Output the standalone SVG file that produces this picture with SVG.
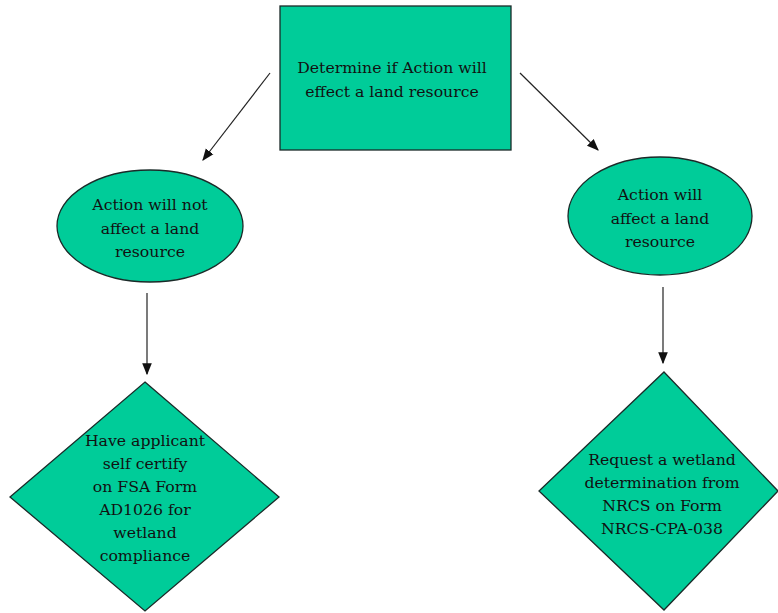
<svg xmlns="http://www.w3.org/2000/svg" width="778" height="613" viewBox="0 0 778 613">
<style>
.shape{fill:#00CC99;stroke:#1a2a28;stroke-width:1.3}
.t{font-family:"DejaVu Serif","Liberation Serif",serif;font-size:15.7px;fill:#111;text-anchor:middle}
.c{stroke:#222;stroke-width:1.2;fill:none;marker-end:url(#ah)}
</style>
<defs>
<marker id="ah" viewBox="0 0 10 10" refX="9" refY="5" markerWidth="12" markerHeight="12" markerUnits="userSpaceOnUse" orient="auto">
<path d="M0,1 L10,5 L0,9 Z" fill="#111"/>
</marker>
</defs>
<rect width="778" height="613" fill="#fff"/>
<g id="connectors">
<line class="c" x1="270" y1="73" x2="203" y2="160"/>
<line class="c" x1="520" y1="73" x2="598" y2="150"/>
<line class="c" x1="147" y1="293" x2="147" y2="374"/>
<line class="c" x1="663" y1="287" x2="663" y2="363"/>
</g>
<g id="n1">
<rect class="shape" x="280" y="6" width="231" height="144"/>
<text class="t" x="392" y="73">Determine if Action will</text>
<text class="t" x="392" y="97">effect a land resource</text>
</g>
<g id="n2">
<ellipse class="shape" cx="150" cy="226" rx="93" ry="56"/>
<text class="t" x="150" y="210">Action will not</text>
<text class="t" x="150" y="234">affect a land</text>
<text class="t" x="150" y="257">resource</text>
</g>
<g id="n3">
<ellipse class="shape" cx="660" cy="216" rx="92" ry="59"/>
<text class="t" x="660" y="200">Action will</text>
<text class="t" x="660" y="224">affect a land</text>
<text class="t" x="660" y="247">resource</text>
</g>
<g id="n4">
<polygon class="shape" points="145,382 279,497 145,611 10,497"/>
<text class="t" x="145" y="446">Have applicant</text>
<text class="t" x="145" y="469">self certify</text>
<text class="t" x="145" y="492">on FSA Form</text>
<text class="t" x="145" y="515">AD1026 for</text>
<text class="t" x="145" y="538">wetland</text>
<text class="t" x="145" y="561">compliance</text>
</g>
<g id="n5">
<polygon class="shape" points="664,372 778,491 664,610 539,491"/>
<text class="t" x="662" y="465">Request a wetland</text>
<text class="t" x="662" y="488">determination from</text>
<text class="t" x="662" y="511">NRCS on Form</text>
<text class="t" x="662" y="534">NRCS-CPA-038</text>
</g>
</svg>
